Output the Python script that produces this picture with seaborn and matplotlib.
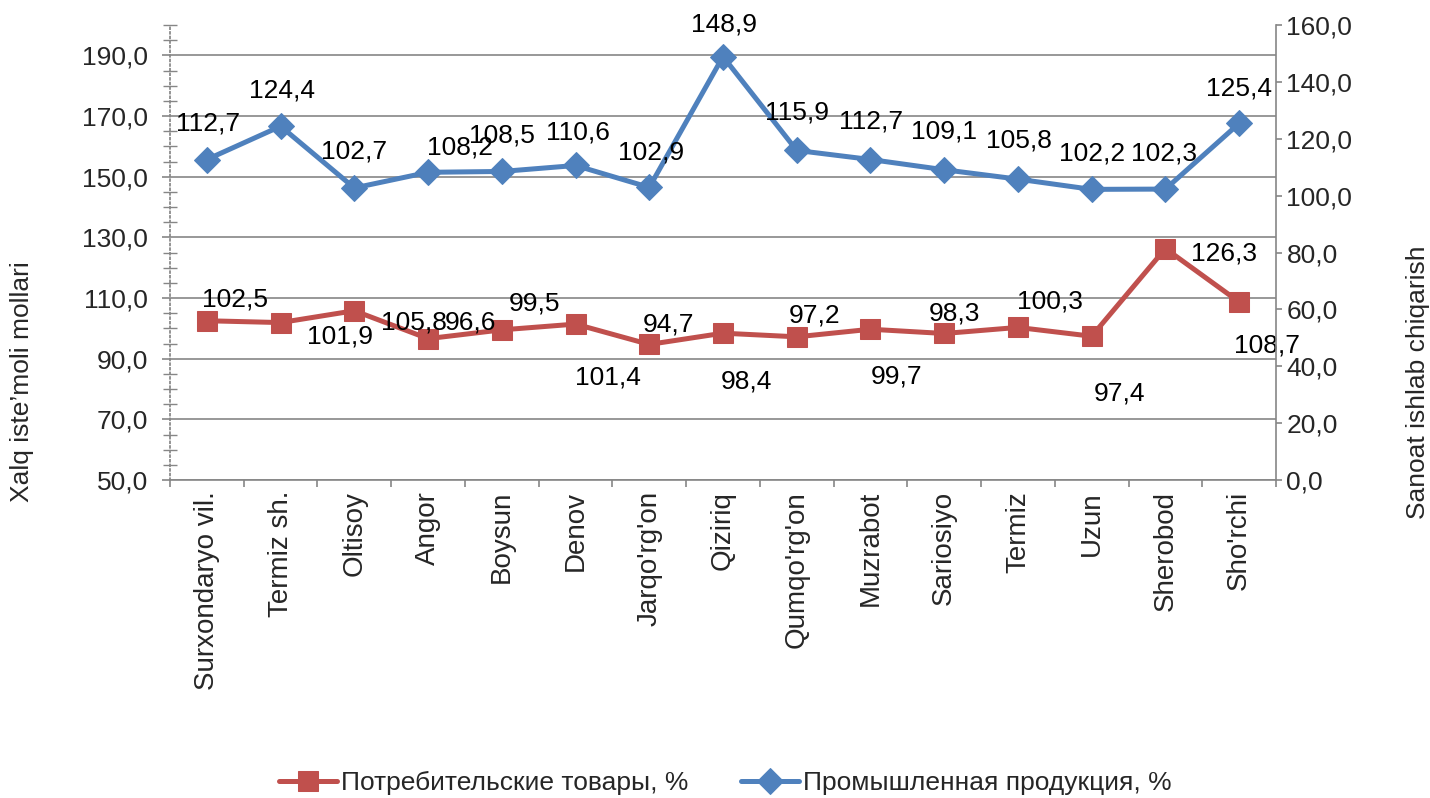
import numpy as np
import pandas as pd
import matplotlib
matplotlib.use("Agg")
import matplotlib.pyplot as plt
from matplotlib.ticker import FuncFormatter, MultipleLocator, FixedLocator
import seaborn as sns

# chart data
regions = ["Surxondaryo vil.", "Termiz sh.", "Oltisoy", "Angor", "Boysun", "Denov",
           "Jarqo'rg'on", "Qiziriq", "Qumqo'rg'on", "Muzrabot", "Sariosiyo", "Termiz",
           "Uzun", "Sherobod", "Sho'rchi"]
consumer = [102.5, 101.9, 105.8, 96.6, 99.5, 101.4, 94.7, 98.4, 97.2, 99.7, 98.3, 100.3, 97.4, 126.3, 108.7]
industrial = [112.7, 124.4, 102.7, 108.2, 108.5, 110.6, 102.9, 148.9, 115.9, 112.7, 109.1, 105.8, 102.2, 102.3, 125.4]

consumer_name = "Потребительские товары, %"
industrial_name = "Промышленная продукция, %"

# label offsets in pixels (dx right, dy down) as placed in the original
consumer_off = [(28, -21), (59, 14), (60, 12), (42, -16), (33, -26), (32, 53), (19, -20), (23, 48),
                (18, -21), (26, 47), (10, -20), (32, -26), (28, 57), (59, 5), (28, 44)]
industrial_off = [(1, -36), (1, -36), (0, -36), (32, -25), (0, -36), (2, -33), (2, -35), (1, -32),
                  (0, -38), (1, -38), (0, -38), (1, -39), (0, -36), (-1, -36), (0, -35)]

RED = "#C0504D"
BLUE = "#4F81BD"
GRID = "#868686"
FS = 19

sns.set_theme(style="white")
plt.rcParams["font.family"] = ["Liberation Sans", "DejaVu Sans"]

df = pd.DataFrame({"pos": np.arange(len(regions)), "region": regions,
                   "consumer": consumer, "industrial": industrial})


def comma(v, _=None):
    return f"{v:.1f}".replace(".", ",")


fig, ax = plt.subplots(figsize=(14.3, 7.98), dpi=100)
fig.subplots_adjust(left=170 / 1430, right=1276 / 1430, top=1 - 25 / 798, bottom=1 - 480 / 798)
ax2 = ax.twinx()

sns.lineplot(data=df, x="pos", y="consumer", ax=ax, color=RED, marker="s", markersize=14,
             markeredgecolor=RED, linewidth=3.6, label=consumer_name, sort=False)
sns.lineplot(data=df, x="pos", y="industrial", ax=ax2, color=BLUE, marker="D", markersize=13,
             markeredgecolor=BLUE, linewidth=3.6, label=industrial_name, sort=False)
for a in (ax, ax2):
    if a.get_legend() is not None:
        a.get_legend().remove()

# data labels
for i, (v, (dx, dy)) in enumerate(zip(consumer, consumer_off)):
    ax.annotate(comma(v), (i, v), xytext=(dx * 0.72, -dy * 0.72), textcoords="offset points",
                ha="center", va="center", fontsize=FS, color="black", zorder=5)
for i, (v, (dx, dy)) in enumerate(zip(industrial, industrial_off)):
    ax2.annotate(comma(v), (i, v), xytext=(dx * 0.72, -dy * 0.72), textcoords="offset points",
                 ha="center", va="center", fontsize=FS, color="black", zorder=5)

# x axis
ax.set_xlim(-0.5, len(regions) - 0.5)
ax.set_xticks(df["pos"])
ax.set_xticklabels(regions, rotation=90, fontsize=20, va="top", ha="center")
ax.xaxis.set_minor_locator(FixedLocator(np.arange(-0.5, len(regions), 1)))
ax.tick_params(axis="x", which="major", length=0, pad=8)
ax.tick_params(axis="x", which="minor", length=5, width=1.2, color=GRID, direction="out", bottom=True)
ax.set_xlabel("")

# left axis
ax.set_ylim(50, 200)
ax.set_yticks(np.arange(50, 191, 20))
ax.yaxis.set_major_formatter(FuncFormatter(comma))
ax.yaxis.set_minor_locator(MultipleLocator(5))
ax.tick_params(axis="y", which="major", length=6, width=1.2, color=GRID, direction="out",
               labelsize=FS, pad=10, left=True)
ax.tick_params(axis="y", which="minor", length=10, width=1, color=GRID, direction="inout", left=True)
ax.grid(axis="y", color=GRID, linewidth=1.2)
ax.set_ylabel("")

# right axis
ax2.set_ylim(0, 160)
ax2.set_yticks(np.arange(0, 161, 20))
ax2.yaxis.set_major_formatter(FuncFormatter(comma))
ax2.tick_params(axis="y", length=4.5, width=1.2, color=GRID, direction="out", labelsize=FS, pad=3, right=True)
ax2.set_ylabel("")

for a in (ax, ax2):
    a.spines["top"].set_visible(False)
ax.spines["right"].set_visible(False)
ax2.spines["left"].set_visible(False)
ax2.spines["bottom"].set_visible(False)
ax.spines["bottom"].set_color(GRID)
ax.spines["bottom"].set_linewidth(1.2)
ax.spines["left"].set_color(GRID)
ax.spines["left"].set_linestyle(":")
ax2.spines["right"].set_color(GRID)
ax2.spines["right"].set_linewidth(1.2)

# axis titles
fig.text(22 / 1430, 1 - 382 / 798, "Xalq iste’moli mollari", rotation=90, ha="center", va="center", fontsize=FS)
fig.text(1418 / 1430, 1 - 382 / 798, "Sanoat ishlab chiqarish", rotation=90, ha="center", va="center", fontsize=FS)

# legend
h1, l1 = ax.get_legend_handles_labels()
h2, l2 = ax2.get_legend_handles_labels()
fig.legend(h1 + h2, l1 + l2, loc="center", bbox_to_anchor=(725 / 1430, 1 - 783 / 798), ncol=2,
           frameon=False, fontsize=FS, handlelength=2.2, handletextpad=0.15, columnspacing=2.0)

fig.savefig("out.png", dpi=100)
